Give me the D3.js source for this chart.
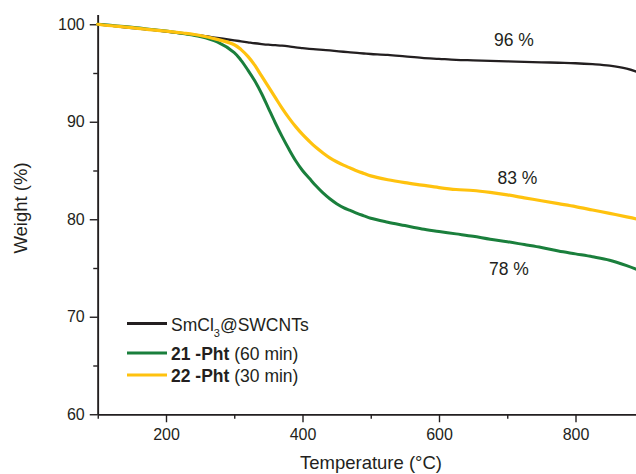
<!DOCTYPE html>
<html>
<head>
<meta charset="utf-8">
<script src="https://cdn.jsdelivr.net/npm/d3@7"></script>
<style>
  html, body { margin: 0; padding: 0; background: #fff; }
  svg { display: block; font-family: "Liberation Sans", Arial, sans-serif; }
</style>
</head>
<body>
<svg id="chart" width="636" height="474"></svg>
<script>
// ---- data ----
const temperatures = [100,125,150,175,200,225,250,275,300,310,320,330,340,350,360,370,380,390,400,410,420,430,440,450,460,470,480,490,500,525,550,575,600,625,650,675,700,725,750,775,800,825,850,875,895];
const weightSmCl3 = [100.0,99.8,99.6,99.45,99.25,99.05,98.85,98.6,98.35,98.25,98.15,98.05,97.97,97.9,97.85,97.8,97.72,97.62,97.55,97.48,97.42,97.38,97.32,97.25,97.18,97.12,97.06,97.0,96.95,96.85,96.7,96.55,96.45,96.35,96.3,96.25,96.2,96.15,96.1,96.05,96.0,95.9,95.75,95.45,95.0];
const weight21 = [100.0,99.85,99.7,99.5,99.3,99.05,98.75,98.2,97.1,96.3,95.3,94.2,92.9,91.4,89.9,88.5,87.2,86.0,85.0,84.2,83.4,82.7,82.1,81.6,81.2,80.9,80.6,80.35,80.1,79.7,79.35,79.0,78.75,78.5,78.25,77.95,77.7,77.4,77.1,76.75,76.45,76.15,75.8,75.25,74.7];
const weight22 = [100.0,99.8,99.65,99.45,99.3,99.1,98.85,98.45,97.9,97.4,96.7,95.8,94.7,93.6,92.5,91.4,90.4,89.5,88.7,88.0,87.35,86.8,86.3,85.9,85.55,85.25,84.95,84.7,84.45,84.05,83.75,83.5,83.25,83.05,82.95,82.75,82.5,82.2,81.9,81.6,81.3,80.95,80.6,80.25,79.95];

const xMajorTicks = [200, 400, 600, 800];
const xMinorTicks = [100, 300, 500, 700];
const yMajorTicks = [60, 70, 80, 90, 100];
const yMinorTicks = [65, 75, 85, 95];

const seriesNames = ["SmCl3@SWCNTs", "21 -Pht (60 min)", "22 -Pht (30 min)"];
const seriesColors = ["#231f20", "#1a7f3c", "#ffc20e"];
const endLabels = ["96 %", "78 %", "83 %"];

// ---- layout ----
const svg = d3.select("#chart");
const ink = "#231f20";
const x = d3.scaleLinear().domain([100, 900]).range([97.75, 643.75]);
const y = d3.scaleLinear().domain([60, 101]).range([414.25, 14.5]);

// axes
const xAxisMajor = d3.axisBottom(x).tickValues(xMajorTicks).tickSize(8).tickSizeOuter(0).tickPadding(6);
const xAxisMinor = d3.axisBottom(x).tickValues(xMinorTicks).tickSize(4.5).tickSizeOuter(0).tickFormat("");
const yAxisMajor = d3.axisLeft(y).tickValues(yMajorTicks).tickSize(8).tickSizeOuter(0).tickPadding(5);
const yAxisMinor = d3.axisLeft(y).tickValues(yMinorTicks).tickSize(4.5).tickSizeOuter(0).tickFormat("");

function styleAxis(g) {
  g.selectAll("path.domain").attr("stroke", ink).attr("stroke-width", 1.6);
  g.selectAll(".tick line").attr("stroke", ink).attr("stroke-width", 1.4);
  g.selectAll(".tick text").attr("fill", ink).style("font-size", "16px")
    .style("font-family", "'Liberation Sans', Arial, sans-serif");
}

svg.append("g").attr("transform", `translate(0,${y(60)})`).call(xAxisMinor).call(styleAxis);
svg.append("g").attr("transform", `translate(0,${y(60)})`).call(xAxisMajor).call(styleAxis);
svg.append("g").attr("transform", `translate(${x(100)},0)`).call(yAxisMinor).call(styleAxis);
svg.append("g").attr("transform", `translate(${x(100)},0)`).call(yAxisMajor).call(styleAxis);

// axis titles
svg.append("text").attr("x", 371).attr("y", 469).attr("text-anchor", "middle")
  .attr("fill", ink).style("font-size", "18.5px").text("Temperature (°C)");
svg.append("text").attr("transform", "translate(27,208) rotate(-90)").attr("text-anchor", "middle")
  .attr("fill", ink).style("font-size", "18.5px").text("Weight (%)");

// curves
const seriesData = [weightSmCl3, weight21, weight22];
const widths = [2.3, 3, 3.2];
const line = d3.line().x(d => x(d[0])).y(d => y(d[1])).curve(d3.curveCatmullRom.alpha(0.5));
[0, 1, 2].forEach(i => {
  const pts = temperatures.map((t, k) => [t, seriesData[i][k]]);
  svg.append("path").datum(pts).attr("d", line).attr("fill", "none")
    .attr("stroke", seriesColors[i]).attr("stroke-width", widths[i])
    .attr("stroke-linejoin", "round").attr("stroke-linecap", "round");
});

// end labels
const labelPos = [[514, 46], [509, 275], [517.5, 184]];
endLabels.forEach((t, i) => {
  svg.append("text").attr("x", labelPos[i][0]).attr("y", labelPos[i][1])
    .attr("text-anchor", "middle").attr("fill", ink).style("font-size", "17.5px").text(t);
});

// legend
const legendRows = [{lineY: 323.5, textY: 330.5}, {lineY: 353, textY: 360}, {lineY: 375, textY: 382}];
legendRows.forEach((r, i) => {
  svg.append("line").attr("x1", 127).attr("x2", 167).attr("y1", r.lineY).attr("y2", r.lineY)
    .attr("stroke", seriesColors[i]).attr("stroke-width", 3);
});
const t0 = svg.append("text").attr("x", 171).attr("y", legendRows[0].textY).attr("fill", ink).style("font-size", "17.5px");
t0.append("tspan").text("SmCl");
t0.append("tspan").attr("dy", 6).style("font-size", "11px").text("3");
t0.append("tspan").attr("dy", -6).text("@SWCNTs");
[1, 2].forEach(i => {
  const parts = seriesNames[i].split(" (");
  const t = svg.append("text").attr("x", 171).attr("y", legendRows[i].textY).attr("fill", ink).style("font-size", "17.5px");
  t.append("tspan").style("font-weight", "bold").text(parts[0]);
  t.append("tspan").text(" (" + parts[1]);
});
</script>
</body>
</html>
